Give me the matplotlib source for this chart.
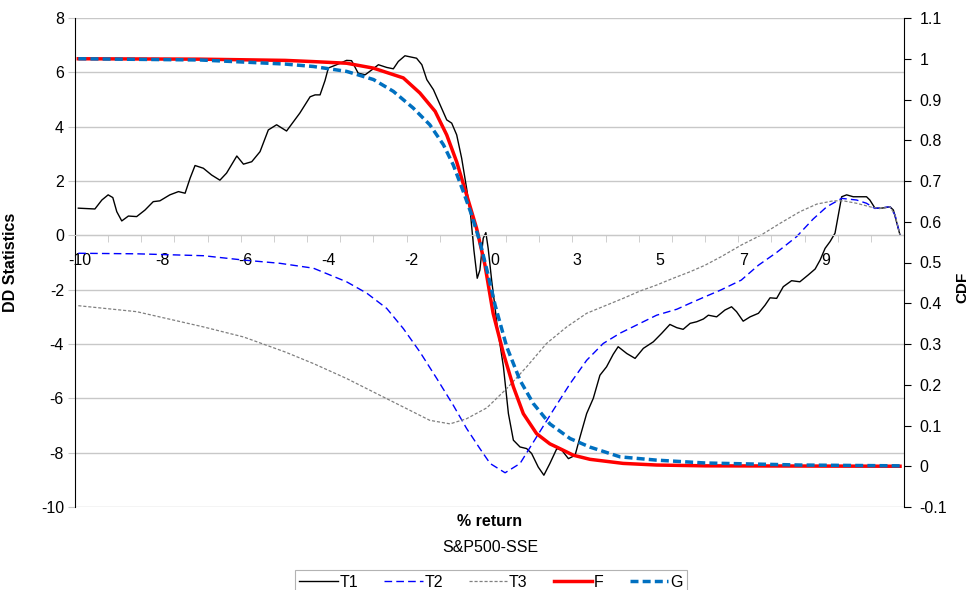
import matplotlib
matplotlib.use("Agg")
import matplotlib.pyplot as plt
from matplotlib.ticker import FixedLocator, NullFormatter

plt.rcParams['font.family'] = ['Liberation Sans', 'DejaVu Sans']
plt.rcParams['axes.unicode_minus'] = False

## x positions are category positions along the axis (tick units, 0..25)
tick_labels = ['-10', '-8', '-6', '-4', '-2', '0', '3', '5', '7', '9']
label_pos = [0.15, 2.65, 5.15, 7.65, 10.15, 12.65, 15.15, 17.65, 20.15, 22.65]

## T1 - DD statistic (left axis)
t1_x = [0.10, 0.60, 0.81, 1.00, 1.14, 1.26, 1.41, 1.61, 1.86, 2.11, 2.36, 2.56, 2.86, 3.12,
        3.32, 3.47, 3.62, 3.87, 4.12, 4.37, 4.57, 4.88, 5.08, 5.33, 5.58, 5.83, 6.08, 6.38,
        6.78, 7.09, 7.24, 7.39, 7.54, 7.64, 7.89, 8.19, 8.34, 8.54, 8.75, 8.95, 9.15, 9.40,
        9.60, 9.75, 9.95, 10.15, 10.30, 10.46, 10.61, 10.81, 11.01, 11.21, 11.36, 11.51,
        11.66, 11.81, 11.93, 12.03, 12.13, 12.21, 12.31, 12.39, 12.46, 12.57, 12.67, 12.72,
        12.92, 13.07, 13.22, 13.42, 13.62, 13.77, 13.97, 14.14, 14.32, 14.53, 14.68, 14.88,
        15.08, 15.23, 15.43, 15.63, 15.83, 16.03, 16.23, 16.38, 16.64, 16.89, 17.14, 17.44,
        17.69, 17.94, 18.15, 18.34, 18.55, 18.75, 18.95, 19.10, 19.35, 19.60, 19.80, 19.95,
        20.15, 20.36, 20.61, 20.81, 20.96, 21.16, 21.36, 21.61, 21.86, 22.11, 22.32, 22.47,
        22.62, 22.77, 22.92, 23.02, 23.12, 23.27, 23.47, 23.67, 23.87, 23.97, 24.12, 24.27,
        24.58, 24.68, 24.88]
t1_y = [1.00, 0.97, 1.30, 1.49, 1.39, 0.87, 0.53, 0.71, 0.69, 0.93, 1.24, 1.27, 1.49, 1.61,
        1.55, 2.10, 2.57, 2.47, 2.22, 2.03, 2.29, 2.92, 2.62, 2.71, 3.08, 3.88, 4.07, 3.84,
        4.50, 5.10, 5.17, 5.17, 5.70, 6.16, 6.28, 6.44, 6.43, 5.97, 5.91, 6.09, 6.28, 6.18,
        6.13, 6.40, 6.61, 6.56, 6.52, 6.28, 5.73, 5.36, 4.80, 4.25, 4.13, 3.70, 2.84, 1.73,
        0.75, -0.55, -1.58, -1.28, -0.11, 0.10, -0.48, -1.71, -2.68, -3.24, -4.84, -6.56,
        -7.54, -7.79, -7.85, -8.03, -8.53, -8.83, -8.40, -7.85, -7.91, -8.22, -8.10, -7.42,
        -6.56, -6.00, -5.15, -4.84, -4.38, -4.10, -4.35, -4.53, -4.16, -3.92, -3.61, -3.28,
        -3.40, -3.46, -3.24, -3.18, -3.08, -2.94, -3.00, -2.75, -2.63, -2.81, -3.16, -3.00,
        -2.87, -2.57, -2.30, -2.32, -1.89, -1.67, -1.71, -1.46, -1.24, -0.91, -0.48, -0.23,
        0.08, 0.75, 1.42, 1.49, 1.42, 1.42, 1.42, 1.30, 1.01, 0.99, 1.05, 0.93, 0.01]

## T2
t2_x = [0.10, 1.86, 3.87, 5.08, 6.18, 7.19, 8.19, 8.80, 9.40, 9.90, 10.40, 10.91, 11.41,
        11.81, 12.21, 12.52, 12.97, 13.42, 13.92, 14.42, 14.93, 15.43, 15.93, 16.44, 17.04,
        17.54, 18.15, 18.55, 19.00, 19.48, 20.09, 20.61, 21.16, 21.76, 22.26, 22.67, 23.12,
        23.57, 23.87, 24.12, 24.37, 24.58, 24.73, 24.88]
t2_y = [-0.66, -0.68, -0.75, -0.91, -1.03, -1.21, -1.71, -2.13, -2.69, -3.43, -4.29, -5.27,
        -6.26, -7.11, -7.85, -8.40, -8.74, -8.40, -7.42, -6.44, -5.46, -4.60, -3.98, -3.60,
        -3.24, -2.94, -2.72, -2.50, -2.26, -2.01, -1.65, -1.10, -0.63, -0.05, 0.60, 1.05,
        1.36, 1.30, 1.18, 0.99, 1.02, 1.05, 0.75, 0.01]

## T3
t3_x = [0.10, 1.86, 3.87, 5.08, 6.33, 7.19, 8.19, 9.20, 10.00, 10.70, 11.31, 11.81, 12.42,
        13.02, 13.62, 14.22, 14.83, 15.43, 16.03, 16.53, 17.04, 17.54, 18.04, 18.55, 19.00,
        19.48, 20.09, 20.69, 21.26, 21.86, 22.37, 22.87, 23.17, 23.57, 24.07, 24.33, 24.58,
        24.73, 24.88]
t3_y = [-2.59, -2.81, -3.37, -3.74, -4.29, -4.72, -5.27, -5.89, -6.38, -6.81, -6.94, -6.75,
        -6.35, -5.64, -4.84, -3.98, -3.37, -2.87, -2.57, -2.32, -2.05, -1.83, -1.58, -1.34,
        -1.10, -0.79, -0.36, 0.01, 0.44, 0.87, 1.15, 1.27, 1.27, 1.18, 1.02, 0.99, 1.05,
        0.75, 0.01]

## F and G - CDFs (right axis)
f_x = [0.10, 3.77, 6.33, 7.19, 8.19, 9.00, 9.90, 10.40, 10.86, 11.21, 11.51, 11.81, 12.11,
       12.36, 12.61, 12.92, 13.22, 13.52, 13.92, 14.32, 14.63, 15.03, 15.53, 16.53, 17.54,
       19.00, 24.88]
f_y = [1.000, 0.999, 0.996, 0.993, 0.989, 0.977, 0.953, 0.916, 0.871, 0.813, 0.747, 0.666,
       0.584, 0.495, 0.375, 0.277, 0.195, 0.129, 0.080, 0.055, 0.043, 0.027, 0.017, 0.007,
       0.003, 0.001, 0.000]
g_x = [0.10, 3.77, 6.33, 7.19, 8.19, 9.00, 9.60, 10.20, 10.70, 11.11, 11.41, 11.71, 11.96,
       12.21, 12.46, 12.67, 13.02, 13.42, 13.82, 14.32, 14.93, 15.53, 16.44, 17.54, 19.00,
       21.86, 24.88]
g_y = [1.000, 0.997, 0.987, 0.981, 0.969, 0.949, 0.920, 0.879, 0.838, 0.789, 0.739, 0.674,
       0.617, 0.551, 0.469, 0.395, 0.293, 0.211, 0.154, 0.104, 0.068, 0.047, 0.023, 0.015,
       0.008, 0.003, 0.001]

fig = plt.figure(figsize=(9.74, 5.9), dpi=100)
ax = fig.add_axes([75/974, 1-507/590, 829/974, 489/590])
ax2 = ax.twinx()

grid_c = '#C8C8C8'
ax.plot(t1_x, t1_y, color='black', lw=1.0, label='T1')
ax.plot(t2_x, t2_y, color='#0000FF', lw=1.0, ls=(0, (5.5, 3)), label='T2')
ax.plot(t3_x, t3_y, color='#808080', lw=0.9, ls=(0, (2.5, 1.5)), label='T3')
ax2.plot(f_x, f_y, color='#FF0000', lw=2.5, label='F')
ax2.plot(g_x, g_y, color='#0070C0', lw=2.5, ls=(0, (2.3, 1.2)), label='G')

ax.set_xlim(0, 25)
ax.set_ylim(-10, 8)
ax.set_yticks(range(-10, 9, 2))
ax.yaxis.grid(True, color=grid_c, lw=1)
ax.set_axisbelow(True)
ax.tick_params(axis='y', direction='out', length=5, color=grid_c, labelsize=11.5, pad=3)

ax.spines['top'].set_visible(False)
ax.spines['right'].set_visible(False)
ax.spines['left'].set_color('black')
ax.spines['bottom'].set_position(('data', 0))
ax.spines['bottom'].set_color(grid_c)

ax.set_xticks(label_pos)
ax.set_xticklabels(tick_labels)
ax.tick_params(axis='x', which='major', length=0, pad=13, labelsize=11.5)
ax.xaxis.set_minor_locator(FixedLocator(range(0, 26)))
ax.xaxis.set_minor_formatter(NullFormatter())
ax.tick_params(axis='x', which='minor', direction='out', length=5, color=grid_c)

ax2.set_ylim(-0.1, 1.1)
ax2.set_yticks([i/10 for i in range(-1, 12)])
ax2.set_yticklabels(['-0.1', '0', '0.1', '0.2', '0.3', '0.4', '0.5', '0.6', '0.7', '0.8',
                     '0.9', '1', '1.1'])
ax2.tick_params(axis='y', direction='out', length=5, color='black', labelsize=11.5, pad=6)
for s in ['top', 'left', 'bottom']:
    ax2.spines[s].set_visible(False)
ax2.spines['right'].set_color('black')

ax.set_ylabel('DD Statistics', fontsize=11.5, fontweight='bold')
ax.yaxis.set_label_coords(-0.069, 0.5)
ax2.set_ylabel('CDF', fontsize=11, fontweight='bold', rotation=90)
ax2.yaxis.set_label_coords(1.062, 0.45)

fig.text(490/974, 1-522/590, '% return', ha='center', va='center', fontsize=11.5,
         fontweight='bold')
fig.text(490/974, 1-548/590, 'S&P500-SSE', ha='center', va='center', fontsize=11.5)

h1, l1 = ax.get_legend_handles_labels()
h2, l2 = ax2.get_legend_handles_labels()
leg = fig.legend(h1 + h2, l1 + l2, loc='upper center', bbox_to_anchor=(491/974, 1-570/590),
                 ncol=5, fontsize=11.5, frameon=True, fancybox=False, edgecolor='#A0A0A0',
                 handlelength=2.4, handletextpad=0.1, columnspacing=1.65,
                 borderaxespad=0, borderpad=0.3)
leg.get_frame().set_linewidth(0.8)

fig.savefig('out.png', dpi=100)
